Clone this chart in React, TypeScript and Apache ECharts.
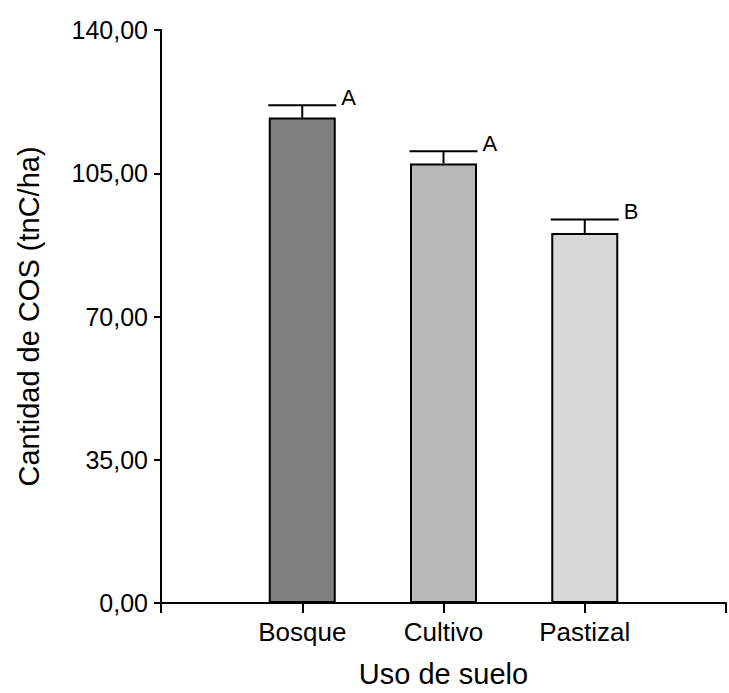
import React, { useEffect, useRef } from "react";
import * as echarts from "echarts";

const categories = ["Bosque", "Cultivo", "Pastizal"];
const positions = [1, 2, 3];
const means = [118.6, 107.4, 90.4];
const upper = [121.6, 110.4, 93.7];
const letters = ["A", "A", "B"];
const barColors = ["#808080", "#b8b8b8", "#d7d7d7"];
const yTicks = [0, 35, 70, 105, 140];

const FONT = "'Liberation Sans', Arial, sans-serif";

export default function App() {
  const ref = useRef<HTMLDivElement>(null);
  useEffect(() => {
    if (!ref.current) return;
    const chart = echarts.init(ref.current, undefined, { renderer: "svg" });
    const barData = positions.map((p, i) => ({
      value: [p, means[i]],
      itemStyle: { color: barColors[i] },
    }));
    const errData = positions.map((p, i) => [p, means[i], upper[i], i]);
    chart.setOption({
      animation: false,
      textStyle: { fontFamily: FONT, color: "#000" },
      grid: { left: 161, top: 30, width: 570, bottom: 85, containLabel: false },
      xAxis: {
        type: "value",
        min: 0,
        max: 4,
        interval: 1,
        name: "Uso de suelo",
        nameLocation: "middle",
        nameGap: 56,
        nameTextStyle: { fontSize: 29, color: "#000", fontFamily: FONT },
        axisLine: { lineStyle: { color: "#000", width: 2 } },
        axisTick: { show: true, length: 10, lineStyle: { color: "#000", width: 2 } },
        axisLabel: {
          margin: 16,
          fontSize: 26,
          color: "#000",
          fontFamily: FONT,
          formatter: (v: number) => {
            const idx = positions.indexOf(v);
            return idx >= 0 ? categories[idx] : "";
          },
        },
        splitLine: { show: false },
      },
      yAxis: {
        type: "value",
        min: yTicks[0],
        max: yTicks[yTicks.length - 1],
        interval: 35,
        name: "Cantidad de COS (tnC/ha)",
        nameLocation: "middle",
        nameGap: 118,
        nameTextStyle: { fontSize: 29, color: "#000", fontFamily: FONT },
        axisLine: { show: true, lineStyle: { color: "#000", width: 2 } },
        axisTick: { show: true, length: 7, lineStyle: { color: "#000", width: 2 } },
        axisLabel: {
          margin: 13,
          fontSize: 25,
          color: "#000",
          fontFamily: FONT,
          formatter: (v: number) => v.toFixed(2).replace(".", ","),
        },
        splitLine: { show: false },
      },
      series: [
        {
          type: "bar",
          data: barData,
          barWidth: 67,
          itemStyle: { borderColor: "#000", borderWidth: 2 },
          z: 2,
        },
        {
          type: "custom",
          data: errData,
          z: 3,
          renderItem: (params: any, api: any) => {
            const x = api.value(0);
            const m = api.value(1);
            const u = api.value(2);
            const idx = api.value(3);
            const p0 = api.coord([x, m]);
            const p1 = api.coord([x, u]);
            const hw = 34;
            return {
              type: "group",
              children: [
                {
                  type: "line",
                  shape: { x1: p0[0], y1: p0[1], x2: p1[0], y2: p1[1] },
                  style: { stroke: "#000", lineWidth: 2 },
                },
                {
                  type: "line",
                  shape: { x1: p1[0] - hw, y1: p1[1], x2: p1[0] + hw, y2: p1[1] },
                  style: { stroke: "#000", lineWidth: 2 },
                },
                {
                  type: "text",
                  x: p1[0] + hw + 5,
                  y: p1[1] + 3,
                  style: {
                    text: letters[idx],
                    fontSize: 22,
                    fontFamily: FONT,
                    fill: "#000",
                    align: "left",
                    verticalAlign: "bottom",
                  },
                },
              ],
            };
          },
        },
      ],
    });
    return () => chart.dispose();
  }, []);
  return <div ref={ref} style={{ width: 729, height: 693, position: "absolute", left: 0, top: 0 }} />;
}
